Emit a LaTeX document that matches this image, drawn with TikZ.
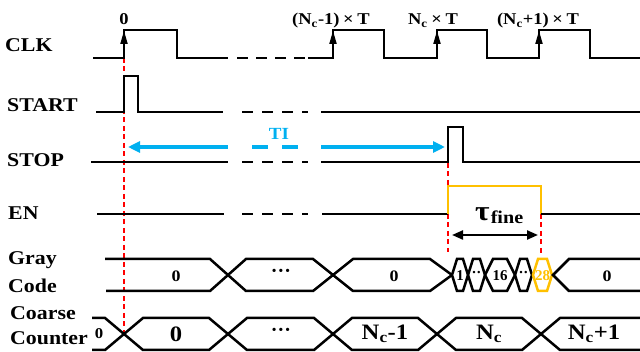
\documentclass[tikz,border=0pt]{standalone}
\usepackage{fontspec}
\setmainfont{Liberation Serif}
\usepackage{graphicx}
\usetikzlibrary{arrows.meta}
\definecolor{tcyan}{RGB}{0,176,240}
\definecolor{tgold}{RGB}{255,192,0}
\definecolor{tred}{RGB}{255,0,0}
\newcommand\hs[1]{\scalebox{1.12}[1]{#1}}
\newcommand\fs[1]{\fontsize{#1}{#1}\selectfont}
\newcommand\tms{\kern0.2em×\kern0.2em}
\newcommand\hexa[4]{\draw[sig,#4] (#1,275) -- ({#1+#3},259) -- ({#2-#3},259) -- (#2,275) -- ({#2-#3},291) -- ({#1+#3},291) -- cycle;}
\begin{document}
\begin{tikzpicture}[x=1pt,y=-1pt,
  sig/.style={line width=2.5pt, line join=miter},
  brk/.style={line width=2.5pt, dash pattern=on 11pt off 8pt},
  reddash/.style={tred, line width=1.6pt, dash pattern=on 5pt off 3.5pt},
  side/.style={anchor=base west, inner sep=0pt, font=\bfseries\fs{19.5}},
  toplab/.style={anchor=base, inner sep=0pt, font=\bfseries\fs{16.5}},
  gtxt/.style={inner sep=0pt, font=\bfseries\fs{16}},
  dtxt/.style={inner sep=0pt, font=\bfseries\fs{20}},
  stxt/.style={inner sep=0pt, font=\bfseries\fs{15}},
  ctxt/.style={inner sep=0pt, font=\bfseries\fs{22}},
  tiarrow/.style={tcyan, line width=3.5pt}
]
\useasboundingbox (0,0) rectangle (640,352);

% red dashed markers
\draw[reddash] (124,58) -- (124,334);
\draw[reddash] (448,163) -- (448,252);
\draw[reddash] (541,214) -- (541,256);

% side labels
\node[side] (lclk) at (5,52) {\hs{CLK}};
\node[side] (lstart) at (7,112) {\hs{START}};
\node[side] (lstop) at (7,167) {\hs{STOP}};
\node[side] (len) at (8,220) {\hs{EN}};
\node[side] (lgray) at (8,265) {\hs{Gray}};
\node[side] (lcode) at (8,293) {\hs{Code}};
\node[side] (lcoarse) at (10,320) {\hs{Coarse}};
\node[side] (lcounter) at (10,345) {\hs{Counter}};

% CLK
\draw[sig] (93,58) -- (124,58) -- (124,30) -- (177,30) -- (177,58) -- (228,58);
\draw[brk] (237,58) -- (305,58);
\draw[sig] (308,58) -- (333,58) -- (333,30) -- (384,30) -- (384,58) -- (437,58) -- (437,30) -- (487,30) -- (487,58) -- (539,58) -- (539,30) -- (590,30) -- (590,58) -- (640,58);
\foreach \xx in {124,333,437,539}{\fill (\xx,31) -- ({\xx-3.8},44) -- ({\xx+3.8},44) -- cycle;}
\node[toplab] (t0) at (124,25) {\hs{0}};
\node[toplab] (t1) at (331,25) {\hs{(N\textsubscript{c}-1)\tms T}};
\node[toplab] (t2) at (433,25) {\hs{N\textsubscript{c}\tms T}};
\node[toplab] (t3) at (538,25) {\hs{(N\textsubscript{c}+1)\tms T}};

% START
\draw[sig] (96,112) -- (124,112) -- (124,76) -- (138,76) -- (138,112) -- (223,112);
\draw[brk, dash pattern=on 11pt off 9pt] (242,112) -- (308,112);
\draw[sig] (321,112) -- (640,112);

% STOP
\draw[sig] (91,162) -- (228,162);
\draw[brk, dash pattern=on 11pt off 9pt] (242,162) -- (308,162);
\draw[sig] (321,162) -- (448,162) -- (448,127) -- (463,127) -- (463,162) -- (640,162);

% TI arrow
\draw[tiarrow, {Triangle[length=12pt,width=11pt]}-] (128,147) -- (228,147);
\draw[tiarrow] (252,147) -- (268,147) (282,147) -- (298,147);
\draw[tiarrow, -{Triangle[length=12pt,width=11pt]}] (321,147) -- (445,147);
\node[inner sep=0pt, font=\bfseries\fs{17}, text=tcyan] (ti) at (279,134) {\hs{TI}};

% EN
\draw[sig] (97,214) -- (224,214);
\draw[brk, dash pattern=on 11pt off 9pt] (242,214) -- (308,214);
\draw[sig] (322,214) -- (448,214);
\draw[sig, tgold] (448,214) -- (448,186) -- (541,186) -- (541,214);
\draw[sig] (541,214) -- (640,214);
\draw[line width=2.2pt, {Triangle[length=11pt,width=9pt]}-{Triangle[length=11pt,width=9pt]}] (452,235) -- (538,235);
\node[anchor=base west, inner sep=0pt, font=\bfseries] (tau) at (475,221) {\hs{{\fs{28}τ}\kern1pt\raisebox{-3pt}{\fs{18}fine}}};

% Gray code bus
\draw[sig] (105,259) -- (210,259) -- (246,291) -- (313,291) -- (353,259) -- (430,259) -- (452,275);
\draw[sig] (106,291) -- (210,291) -- (246,259) -- (313,259) -- (353,291) -- (430,291) -- (452,275);
\hexa{452}{468}{5}{}
\hexa{468}{485}{5}{}
\hexa{485}{515}{8}{}
\hexa{515}{532}{5}{}
\hexa{533}{552}{5}{tgold}
\draw[sig] (640,259) -- (569,259) -- (553,275) -- (569,291) -- (640,291);
\node[gtxt] (g0) at (176,276) {\hs{0}};
\node[dtxt] (g1) at (281,273) {···};
\node[gtxt] (g2) at (394,276) {\hs{0}};
\node[stxt] (s1) at (460,276) {1};
\node[stxt] (s2) at (476.5,274) {··};
\node[stxt] (s3) at (500,276) {16};
\node[stxt] (s4) at (523.5,274) {··};
\node[stxt, text=tgold] (s5) at (542.5,276) {28};
\node[gtxt] (g3) at (607,276) {\hs{0}};

% Coarse counter bus
\draw[sig] (92,318) -- (105,318) -- (143,350) -- (209,350) -- (247,318) -- (314,318) -- (352,350) -- (418,350) -- (456,318) -- (522,318) -- (560,350) -- (640,350);
\draw[sig] (92,350) -- (105,350) -- (143,318) -- (209,318) -- (247,350) -- (314,350) -- (352,318) -- (418,318) -- (456,350) -- (522,350) -- (560,318) -- (640,318);
\node[stxt] (c00) at (99,334) {\hs{0}};
\node[ctxt] (c0) at (176,334) {\hs{0}};
\node[dtxt] (c1) at (281,332) {···};
\node[ctxt] (c2) at (385,334) {\hs{N\textsubscript{c}-1}};
\node[ctxt] (c3) at (489,334) {\hs{N\textsubscript{c}}};
\node[ctxt] (c4) at (594,334) {\hs{N\textsubscript{c}+1}};
\end{tikzpicture}
\end{document}
